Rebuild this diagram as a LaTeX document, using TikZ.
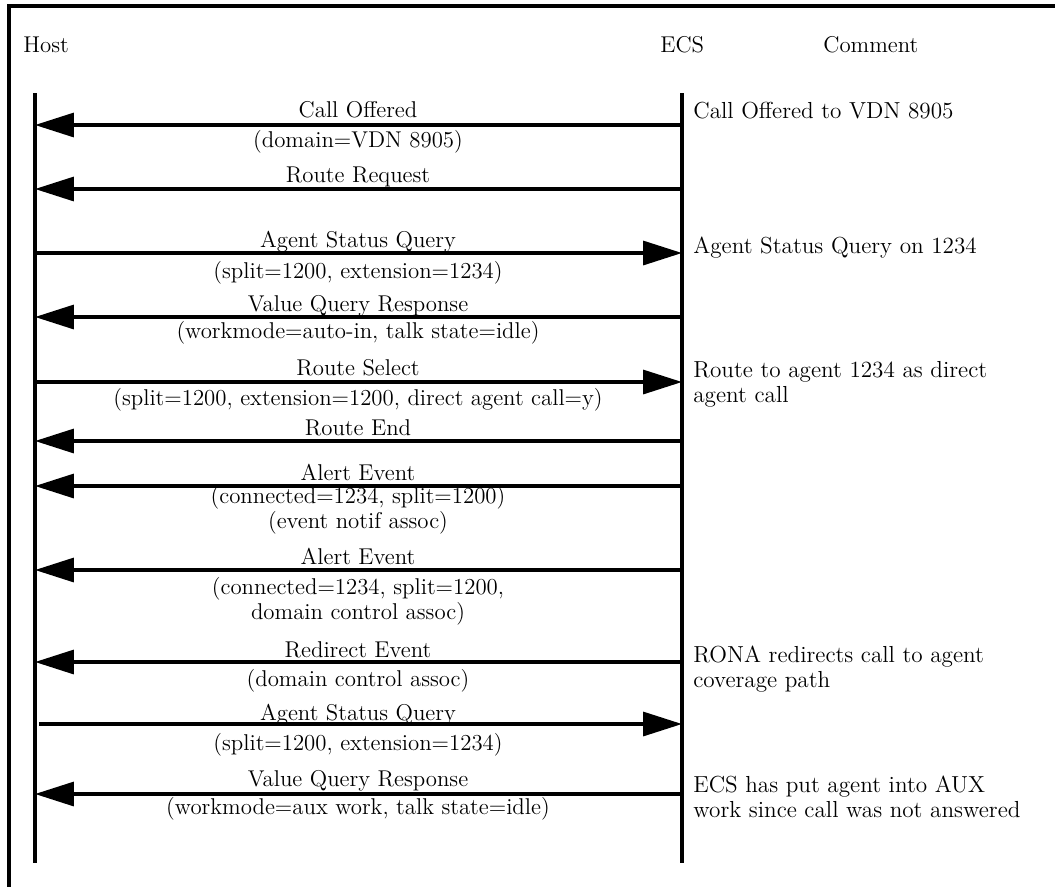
\documentclass[tikz,border=0pt]{standalone}
\usepackage{fontspec}
\usetikzlibrary{arrows.meta}
\begin{document}
\begin{tikzpicture}[x=0.02cm,y=-0.02cm,
  life/.style={line width=1.9pt},
  msg/.style={line width=1.9pt,-{Triangle[length=0.78cm,width=0.48cm]}},
  lbl/.style={anchor=base,inner sep=0pt,align=center,font=\fontsize{13}{12.5}\selectfont},
  cmt/.style={anchor=base west,inner sep=0pt,align=left,font=\fontsize{13.2}{14.2}\selectfont}]
  \useasboundingbox (0,0) rectangle (1055,887);
  % frame
  \draw[line width=2.1pt] (1055,6) -- (9,6) -- (9,887);
  \node[lbl,anchor=base west] (host) at (23,52) {Host};
  \node[lbl,anchor=base west] (ecs) at (660,52) {ECS};
  \node[lbl,anchor=base west] (cmnt) at (823,52) {Comment};
  % lifelines
  \coordinate (htop) at (35,93);
  \coordinate (hbot) at (35,863);
  \coordinate (etop) at (682,93);
  \coordinate (ebot) at (682,863);
  \draw[life] (htop) -- (hbot);
  \draw[life] (etop) -- (ebot);
  % messages
  \foreach \i/\y in {1/125,2/189,3/253,4/317,5/382,6/441,7/486,8/570,9/662,10/724,11/794} {
    \coordinate (h\i) at (35,\y);
    \coordinate (e\i) at (682,\y);
  }
  \coordinate (h10) at (39,724);
  \foreach \i in {1,2,4,6,7,8,9,11}
    \draw[msg] (e\i) -- (h\i);
  \foreach \i in {3,5,10}
    \draw[msg] (h\i) -- (e\i);
  % labels (multi-line ones sit on their last line)
  \node[lbl] (a1) at (358,117) {Call Offered};
  \node[lbl] (b1) at (358,147) {(domain=VDN 8905)};
  \node[lbl] (a2) at (358,182) {Route Request};
  \node[lbl] (a3) at (358,247) {Agent Status Query};
  \node[lbl] (b3) at (358,278) {(split=1200, extension=1234)};
  \node[lbl] (a4) at (358,311) {Value Query Response};
  \node[lbl] (b4) at (358,338) {(workmode=auto-in, talk state=idle)};
  \node[lbl] (a5) at (358,375) {Route Select};
  \node[lbl] (b5) at (358,405) {(split=1200, extension=1200, direct agent call=y)};
  \node[lbl] (a6) at (358,435) {Route End};
  \node[lbl] (a7) at (358,480) {Alert Event};
  \node[lbl] (b7) at (358,528) {(connected=1234, split=1200)\\(event notif assoc)};
  \node[lbl] (a8) at (358,564) {Alert Event};
  \node[lbl] (b8) at (358,619) {(connected=1234, split=1200,\\domain control assoc)};
  \node[lbl] (a9) at (358,657) {Redirect Event};
  \node[lbl] (b9) at (358,686) {(domain control assoc)};
  \node[lbl] (a10) at (358,720) {Agent Status Query};
  \node[lbl] (b10) at (358,750) {(split=1200, extension=1234)};
  \node[lbl] (a11) at (358,786) {Value Query Response};
  \node[lbl] (b11) at (358,814) {(workmode=aux work, talk state=idle)};
  % comments
  \node[cmt] (c1) at (693,118) {Call Offered to VDN 8905};
  \node[cmt] (c3) at (693,253) {Agent Status Query on 1234};
  \node[cmt] (c5) at (693,402) {Route to agent 1234 as direct\\agent call};
  \node[cmt] (c9) at (693,687) {RONA redirects call to agent\\coverage path};
  \node[cmt] (c11) at (693,817) {ECS has put agent into AUX\\work since call was not answered};
\end{tikzpicture}
\end{document}
